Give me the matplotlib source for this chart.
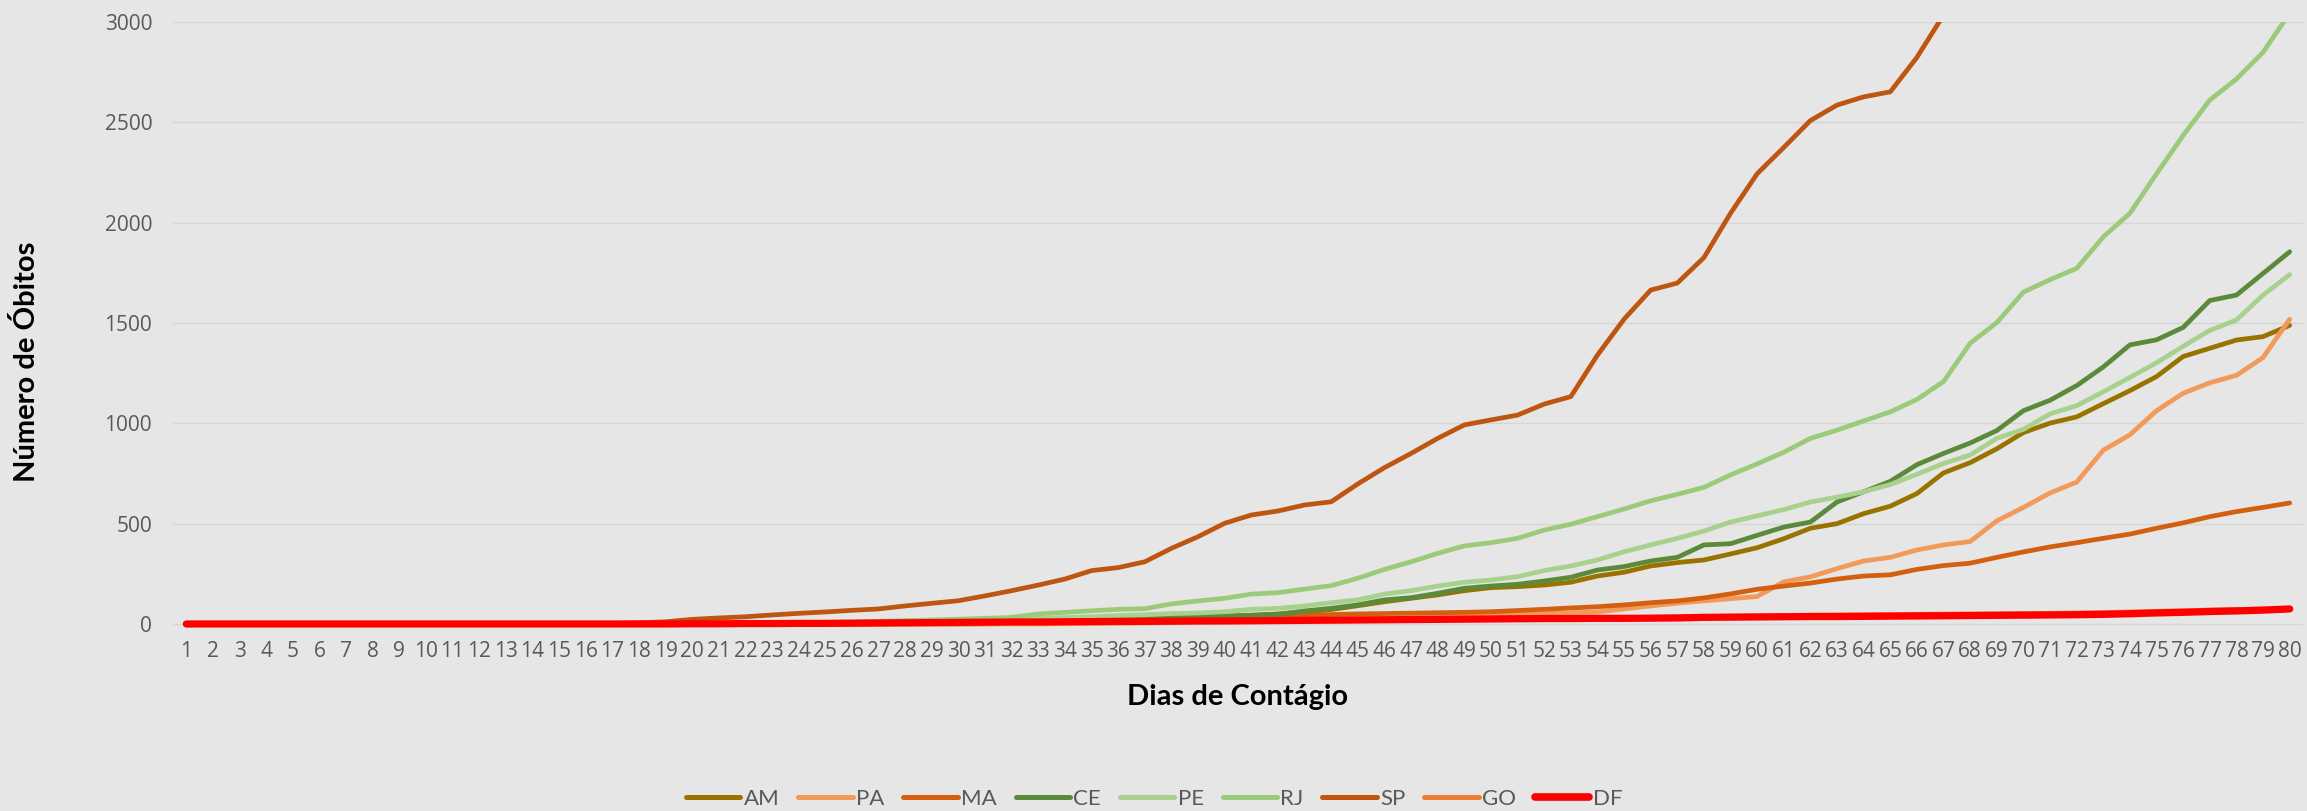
import numpy as np
import matplotlib
matplotlib.use('Agg')
import matplotlib.pyplot as plt

# óbitos acumulados por estado, dia 1 a 80 de contágio
dias = list(range(1, 81))

am = [0]*30 + [1, 3, 7, 11, 16, 20, 24, 28, 32, 36,
               43, 50, 60, 72, 91, 111, 128, 145, 166, 181,
               186, 194, 208, 239, 258, 289, 306, 319, 349, 380,
               425, 477, 500, 550, 587, 650, 753, 804, 873, 954,
               1001, 1032, 1098, 1163, 1233, 1333, 1374, 1415, 1432, 1488]
pa = [0]*33 + [1, 2, 3, 5, 7, 9, 12,
               14, 17, 20, 23, 26, 29, 33, 37, 41, 45,
               49, 52, 56, 60, 75, 90, 104, 115, 126, 137,
               210, 235, 276, 314, 332, 369, 394, 411, 514, 581,
               653, 707, 866, 943, 1063, 1150, 1202, 1239, 1328, 1519]
ma = [0]*25 + [1, 2, 4, 6, 8,
               10, 13, 16, 19, 22, 25, 28, 31, 34, 37,
               39, 41, 44, 47, 50, 52, 54, 56, 58, 61,
               67, 73, 80, 86, 95, 106, 115, 130, 150, 173,
               189, 204, 224, 239, 245, 272, 291, 303, 332, 359,
               384, 405, 427, 448, 477, 504, 535, 560, 581, 603]
ce = [0]*25 + [1, 3, 5, 7, 9,
               12, 14, 17, 20, 23, 26, 28, 32, 36, 40,
               44, 48, 65, 78, 95, 120, 131, 153, 178, 189,
               198, 214, 233, 269, 286, 314, 332, 394, 400, 442,
               483, 508, 608, 659, 711, 794, 850, 902, 964, 1063,
               1115, 1188, 1281, 1391, 1416, 1478, 1612, 1639, 1747, 1855]
pe = [0]*27 + [2, 5, 9,
               13, 18, 28, 32, 36, 42, 46, 52, 55, 61,
               73, 78, 90, 106, 120, 149, 166, 189, 208, 219,
               236, 266, 289, 319, 360, 394, 427, 463, 508, 539,
               570, 608, 632, 659, 695, 746, 800, 842, 925, 970,
               1047, 1088, 1157, 1229, 1302, 1384, 1463, 1515, 1639, 1741]
rj = [0]*19 + [1, 2, 3, 4, 6, 8, 10, 13, 17, 20, 24,
               28, 33, 50, 58, 66, 73, 76, 100, 115, 128,
               149, 156, 174, 191, 228, 272, 310, 352, 389, 405,
               427, 468, 497, 535, 573, 614, 646, 681, 743, 798,
               856, 925, 966, 1012, 1057, 1119, 1208, 1399, 1502, 1654,
               1716, 1772, 1929, 2047, 2244, 2435, 2611, 2716, 2849, 3045]
sp = [0]*15 + [1, 3, 6, 11,
               23, 30, 36, 45, 53, 60, 68, 75, 90, 103, 116,
               140, 166, 194, 224, 266, 281, 310, 377, 435, 502,
               543, 563, 593, 609, 698, 779, 850, 925, 992, 1017,
               1041, 1096, 1133, 1340, 1519, 1664, 1699, 1826, 2047, 2244,
               2375, 2509, 2586, 2627, 2652, 2824, 3035] + [np.nan]*13
go = [0]*24 + [1, 1, 2, 2, 3, 4,
               5, 6, 7, 8, 9, 10, 11, 12, 13, 14,
               15, 16, 17, 18, 19, 20, 21, 22, 23, 25,
               26, 27, 28, 29, 31, 33, 35, 37, 39, 40,
               42, 44, 45, 46, 47, 48, 49, 50, 51, 52,
               53, 55, 57, 60, 63, 66, 70, 72, 75, 72]
df = [0]*19 + [1, 1, 2, 2, 3, 3, 4, 5, 6, 7, 8,
               9, 10, 10, 11, 12, 13, 13, 14, 15, 15,
               16, 17, 18, 19, 20, 21, 22, 23, 24, 25,
               26, 27, 27, 28, 28, 29, 30, 33, 34, 35,
               36, 37, 37, 38, 39, 40, 41, 42, 43, 44,
               45, 46, 48, 51, 55, 58, 62, 65, 69, 75]

estados = ['AM', 'PA', 'MA', 'CE', 'PE', 'RJ', 'SP', 'GO', 'DF']
series = [am, pa, ma, ce, pe, rj, sp, go, df]
cores = ['#997300', '#F29A5A', '#D35F0F', '#5A8A3A', '#A9D18E',
         '#9BCB7A', '#BE5510', '#ED7D31', '#FF0000']

FUNDO = '#E6E6E6'
CINZA = '#595959'

fig = plt.figure(figsize=(23.07, 8.11), dpi=100, facecolor=FUNDO)
ax = fig.add_axes([173/2307, (811-630)/811, 2130/2307, 608/811])
ax.set_facecolor(FUNDO)

for uf, vals, cor in zip(estados, series, cores):
    lw = 5.2 if uf == 'DF' else 3.4
    ax.plot(dias, vals, color=cor, lw=lw, label=uf,
            solid_capstyle='round', solid_joinstyle='round')

ax.set_xlim(0.5, 80.5)
ax.set_ylim(-30, 3000)
ax.set_yticks(range(0, 3001, 500))
ax.set_xticks(dias)
ax.grid(axis='y', color='#D6D6D6', lw=1.0, zorder=0)
ax.set_axisbelow(True)
for s in ax.spines.values():
    s.set_visible(False)
ax.tick_params(axis='both', length=0, colors=CINZA, labelsize=15)
ax.tick_params(axis='y', pad=15)
ax.tick_params(axis='x', pad=8)
for t in ax.get_xticklabels() + ax.get_yticklabels():
    t.set_fontfamily('Open Sans')

fig.text(27/2307, (811-362)/811, 'Número de Óbitos', rotation=90,
         ha='center', va='center', fontsize=21, fontweight='bold',
         family='Lato', color='black')
fig.text(1238/2307, (811-697)/811, 'Dias de Contágio',
         ha='center', va='center', fontsize=21, fontweight='bold',
         family='Lato', color='black')

leg = fig.legend(loc='center', bbox_to_anchor=(1154/2307, (811-799)/811),
                 ncol=9, frameon=False, handlelength=2.45, handletextpad=0.15,
                 columnspacing=0.85, prop={'family': 'Lato', 'size': 16})
for t in leg.get_texts():
    t.set_color(CINZA)
for h in leg.get_lines():
    h.set_linewidth(5.5 if h.get_label() == 'DF' else 3.6)

fig.savefig('out.png', dpi=100, facecolor=FUNDO)
